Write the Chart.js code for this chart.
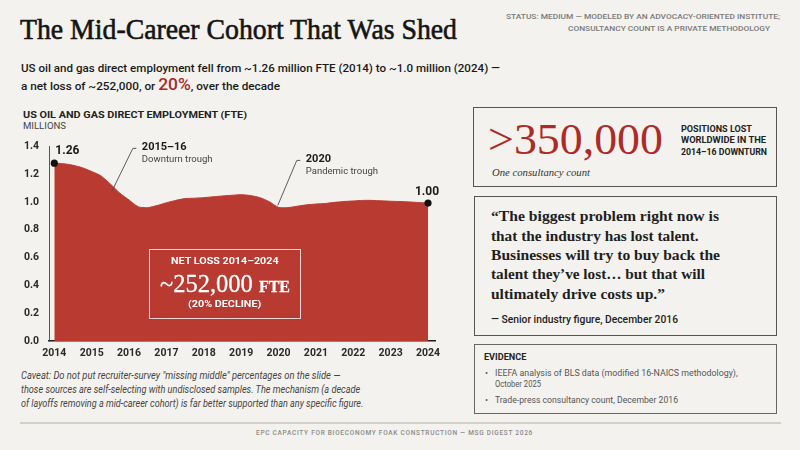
<!DOCTYPE html>
<html><head><meta charset="utf-8">
<script src="https://cdn.jsdelivr.net/npm/chart.js@4/dist/chart.umd.min.js"></script>
<style>
html,body{margin:0;padding:0;}
body{width:800px;height:450px;background:#F4F2EE;position:relative;overflow:hidden;font-family:Roboto,"Liberation Sans",sans-serif;color:#222;}
.t{position:absolute;white-space:nowrap;line-height:1;transform-origin:0 50%;}
.serif{font-family:"Liberation Serif","DejaVu Serif",serif;}
.box{position:absolute;box-sizing:border-box;}
#chartWrap{position:absolute;left:0;top:130px;width:460px;height:235px;}
</style></head>
<body>
<div class="t serif" data-w="437" style="left:20px;top:14.7px;font-size:29px;color:#151515;-webkit-text-stroke:0.6px #151515;">The Mid-Career Cohort That Was Shed</div>
<div class="t" data-w="274" style="left:506px;top:13px;font-size:8px;font-weight:500;color:#7a7a7a;">STATUS: MEDIUM — MODELED BY AN ADVOCACY-ORIENTED INSTITUTE;</div>
<div class="t" data-w="202" style="left:568px;top:25px;font-size:8px;font-weight:500;color:#7a7a7a;">CONSULTANCY COUNT IS A PRIVATE METHODOLOGY</div>

<div class="t" data-w="479" style="left:21px;top:62.5px;font-size:11.5px;font-weight:500;color:#1a1a1a;">US oil and gas direct employment fell from ~1.26 million FTE (2014) to ~1.0 million (2024) —</div>
<div class="t" data-w="259" style="left:21px;top:76px;font-size:11.5px;font-weight:500;color:#1a1a1a;height:16px;line-height:16px;">a net loss of ~252,000, or <span style="font-size:17px;color:#A8282A;">20%</span>, over the decade</div>

<div class="t" data-w="224" style="left:22.7px;top:110.3px;font-size:9.5px;font-weight:bold;color:#222;">US OIL AND GAS DIRECT EMPLOYMENT (FTE)</div>
<div class="t" data-w="43" style="left:22.7px;top:121.8px;font-size:8.5px;color:#444;">MILLIONS</div>

<div id="chartWrap"><canvas id="c" width="460" height="235"></canvas></div>

<div class="box" style="left:149.3px;top:249px;width:151.4px;height:70.3px;border:1px solid rgba(255,255,255,0.8);"></div>
<div class="t" data-w="107.6" style="left:171px;top:255.5px;font-size:9.5px;font-weight:bold;color:#fff;">NET LOSS 2014–2024</div>
<div class="t serif" data-w="130" style="left:160px;top:270.9px;font-size:26px;color:#fff;-webkit-text-stroke:0.3px #fff;">~252,000 <span style="font-size:17px;font-weight:bold;">FTE</span></div>
<div class="t" data-w="73.3" style="left:188px;top:299.2px;font-size:9.5px;font-weight:bold;color:#fff;">(20% DECLINE)</div>

<div class="box" style="left:472.7px;top:107.3px;width:304.6px;height:80px;border:1.2px solid #555;"></div>
<div class="t serif" data-w="175" style="left:488px;top:117.3px;font-size:45px;color:#AE2A28;">&gt;350,000</div>
<div class="t" data-w="71" style="left:680.7px;top:124.5px;font-size:9px;font-weight:bold;color:#222;">POSITIONS LOST</div>
<div class="t" data-w="85" style="left:680.7px;top:136.2px;font-size:9px;font-weight:bold;color:#222;">WORLDWIDE IN THE</div>
<div class="t" data-w="86" style="left:680.7px;top:147.5px;font-size:9px;font-weight:bold;color:#222;">2014–16 DOWNTURN</div>
<div class="t serif" data-w="98" style="left:491.7px;top:167px;font-size:11px;font-style:italic;color:#333;">One consultancy count</div>

<div class="box" style="left:474px;top:195.7px;width:303px;height:140.3px;border:1.2px solid #555;"></div>
<div class="t serif" data-w="228" style="left:491px;top:209.4px;font-size:15px;font-weight:bold;color:#1e1e1e;">“The biggest problem right now is</div>
<div class="t serif" data-w="207.7" style="left:491px;top:229.1px;font-size:15px;font-weight:bold;color:#1e1e1e;">that the industry has lost talent.</div>
<div class="t serif" data-w="229" style="left:491px;top:248.1px;font-size:15px;font-weight:bold;color:#1e1e1e;">Businesses will try to buy back the</div>
<div class="t serif" data-w="214" style="left:491px;top:267.4px;font-size:15px;font-weight:bold;color:#1e1e1e;">talent they’ve lost… but that will</div>
<div class="t serif" data-w="174" style="left:491px;top:286.7px;font-size:15px;font-weight:bold;color:#1e1e1e;">ultimately drive costs up.”</div>
<div class="t" data-w="187" style="left:491px;top:315px;font-size:10px;font-weight:500;color:#222;">— Senior industry figure, December 2016</div>

<div class="box" style="left:474px;top:344px;width:303px;height:70px;border:1px solid #666;"></div>
<div class="t" data-w="42.3" style="left:484px;top:352px;font-size:9.5px;font-weight:bold;color:#222;">EVIDENCE</div>
<div class="t" style="left:485px;top:368.5px;font-size:9px;color:#555;">•</div>
<div class="t" data-w="242.7" style="left:495px;top:368.5px;font-size:9px;color:#555;">IEEFA analysis of BLS data (modified 16-NAICS methodology),</div>
<div class="t" data-w="46" style="left:495px;top:379.8px;font-size:9px;color:#555;">October 2025</div>
<div class="t" style="left:485px;top:396.2px;font-size:9px;color:#555;">•</div>
<div class="t" data-w="183" style="left:495px;top:396.2px;font-size:9px;color:#555;">Trade-press consultancy count, December 2016</div>

<div class="t" data-w="319.3" style="left:20.7px;top:370.7px;font-size:10px;font-style:italic;color:#444;">Caveat: Do not put recruiter-survey "missing middle" percentages on the slide —</div>
<div class="t" data-w="339.3" style="left:20.7px;top:385.3px;font-size:10px;font-style:italic;color:#444;">those sources are self-selecting with undisclosed samples. The mechanism (a decade</div>
<div class="t" data-w="342.3" style="left:20.7px;top:399.3px;font-size:10px;font-style:italic;color:#444;">of layoffs removing a mid-career cohort) is far better supported than any specific figure.</div>

<div class="box" style="left:20px;top:422px;width:761px;height:1.5px;background:#d3d0ca;"></div>
<div class="t" data-w="277" style="left:256px;top:428.9px;font-size:7.5px;font-weight:500;letter-spacing:0.8px;color:#8a8a8a;">EPC CAPACITY FOR BIOECONOMY FOAK CONSTRUCTION — MSG DIGEST 2026</div>

<script>
// ---- data ----
const years = [2014, 2015, 2016, 2017, 2018, 2019, 2020, 2021, 2022, 2023, 2024];
const yTicks = [0, 0.2, 0.4, 0.6, 0.8, 1.0, 1.2, 1.4];
const periods = [2014.00, 2014.25, 2014.50, 2014.75,
                 2015.00, 2015.25, 2015.50, 2015.75,
                 2016.00, 2016.25, 2016.50, 2016.75,
                 2017.00, 2017.25, 2017.50, 2017.75,
                 2018.00, 2018.25, 2018.50, 2018.75,
                 2019.00, 2019.25, 2019.50, 2019.75,
                 2020.00, 2020.25, 2020.50, 2020.75,
                 2021.00, 2021.25, 2021.50, 2021.75,
                 2022.00, 2022.25, 2022.50, 2022.75,
                 2023.00, 2023.25, 2023.50, 2023.75,
                 2024.00];
const employment = [1.280, 1.276, 1.265, 1.247,
                    1.220, 1.188, 1.130, 1.065,
                    1.015, 0.966, 0.960, 0.975,
                    0.995, 1.012, 1.025, 1.028,
                    1.032, 1.038, 1.044, 1.049,
                    1.053, 1.047, 1.032, 1.003,
                    0.962, 0.960, 0.970, 0.980,
                    0.986, 0.990, 0.998, 1.004,
                    1.008, 1.012, 1.012, 1.009,
                    1.006, 1.004, 1.001, 0.997,
                    0.993];
const endLabels = ['1.26', '1.00'];
const troughNotes = [
  {year: 2015.54, value: 1.077, title: '2015–16', sub: 'Downturn trough'},
  {year: 2019.98, value: 0.976, title: '2020', sub: 'Pandemic trough'}
];
// ---- styles / layout ----
const RED = '#B83A31';
const noteOffsets = [{dx: 21, dy: -43, tx: 30}, {dx: 19, dy: -45, tx: 28}];

const annot = {
  id: 'annot',
  afterDatasetsDraw(chart) {
    const {ctx, scales: {x, y}} = chart;
    ctx.save();
    const n = periods.length - 1;
    ctx.fillStyle = '#1a1a1a';
    ctx.font = 'bold 12px Roboto, "Liberation Sans", sans-serif';
    ctx.textBaseline = 'middle';
    ctx.textAlign = 'left';
    ctx.fillText(endLabels[0], x.getPixelForValue(periods[0]) + 1, y.getPixelForValue(employment[0]) - 12.5);
    ctx.textAlign = 'center';
    ctx.fillText(endLabels[1], x.getPixelForValue(periods[n]) - 1, y.getPixelForValue(employment[n]) - 11);
    troughNotes.forEach((nt, i) => {
      const o = noteOffsets[i];
      const ax = x.getPixelForValue(nt.year), ay = y.getPixelForValue(nt.value);
      ctx.strokeStyle = '#4a4a4a';
      ctx.lineWidth = 0.9;
      ctx.beginPath();
      ctx.moveTo(ax, ay);
      ctx.lineTo(ax + o.dx, ay + o.dy);
      ctx.lineTo(ax + o.dx + 3.5, ay + o.dy);
      ctx.stroke();
      ctx.textAlign = 'left';
      ctx.fillStyle = '#1a1a1a';
      ctx.font = 'bold 11px Roboto, "Liberation Sans", sans-serif';
      ctx.fillText(nt.title, ax + o.tx, ay + o.dy - 1.2);
      ctx.fillStyle = '#444';
      ctx.font = '9.5px Roboto, "Liberation Sans", sans-serif';
      ctx.fillText(nt.sub, ax + o.tx, ay + o.dy + 10.8);
    });
    ctx.restore();
  }
};

new Chart(document.getElementById('c'), {
  type: 'line',
  data: {
    datasets: [{
      data: periods.map((p, i) => ({x: p, y: employment[i]})),
      fill: 'origin',
      backgroundColor: RED,
      borderColor: RED,
      borderWidth: 1,
      tension: 0.25,
      pointRadius: periods.map((p, i) => (i === 0 || i === periods.length - 1) ? 3.6 : 0),
      pointBackgroundColor: '#111',
      pointBorderColor: '#111',
      pointBorderWidth: 0
    }]
  },
  options: {
    responsive: false,
    animation: false,
    events: [],
    layout: {padding: {left: 0, right: 25, top: 16.5, bottom: 0}},
    plugins: {legend: {display: false}, tooltip: {enabled: false}},
    scales: {
      x: {
        type: 'linear',
        min: 2013.858, max: 2024.187,
        afterBuildTicks: s => { s.ticks = years.map(v => ({value: v})); },
        afterFit: s => { s.height = 24; },
        grid: {display: false, drawTicks: false},
        border: {display: true, color: '#1c1c1c', width: 1.6},
        ticks: {padding: 6, color: '#2a2a2a', font: {family: 'Roboto, "Liberation Sans", sans-serif', size: 10.5, weight: 'bold'}, callback: v => String(v), maxRotation: 0, autoSkip: false}
      },
      y: {
        min: 0, max: 1.4,
        afterBuildTicks: s => { s.ticks = yTicks.map(v => ({value: v})); },
        afterFit: s => { s.width = 49; },
        grid: {display: false, drawTicks: false},
        border: {display: true, color: '#555', width: 1},
        ticks: {padding: 10, color: '#2a2a2a', font: {family: 'Roboto, "Liberation Sans", sans-serif', size: 10.5, weight: 'bold'}, callback: v => Number(v).toFixed(1)}
      }
    }
  },
  plugins: [annot]
});

function fitAll() {
  document.querySelectorAll('[data-w]').forEach(el => {
    el.style.transform = 'none';
    const w = el.getBoundingClientRect().width;
    const target = parseFloat(el.dataset.w);
    if (w > 0) el.style.transform = 'scaleX(' + (target / w) + ')';
  });
}
fitAll();
if (document.fonts && document.fonts.ready) document.fonts.ready.then(fitAll);
</script>
</body></html>
